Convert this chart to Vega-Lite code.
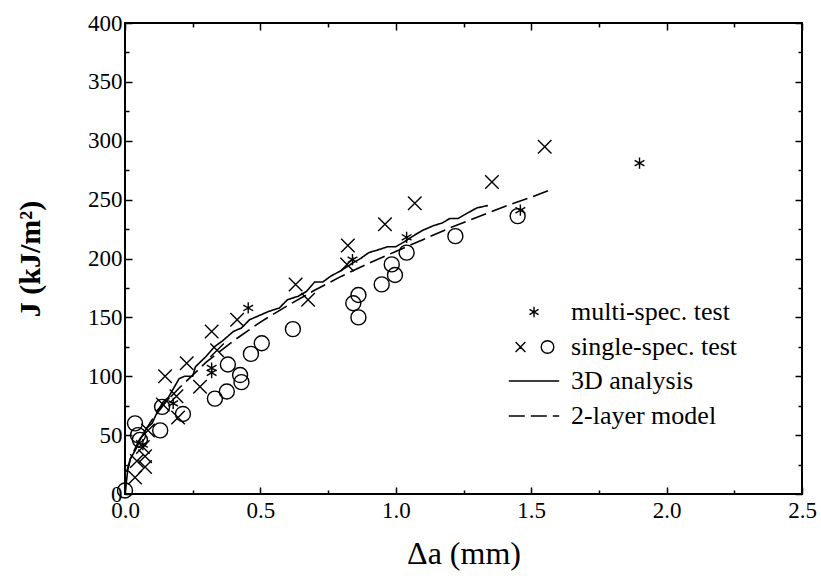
{
  "$schema": "https://vega.github.io/schema/vega-lite/v6.json",
  "width": 677,
  "height": 471,
  "autosize": "none",
  "padding": {"left": 125, "top": 23, "right": 19, "bottom": 85},
  "background": "white",
  "config": {
    "view": {"stroke": "black", "strokeWidth": 2},
    "font": "Liberation Serif, Times New Roman, serif",
    "axis": {"grid": false, "domain": false, "labelFont": "Liberation Serif, Times New Roman, serif", "labelFontSize": 23, "labelColor": "black", "tickColor": "black", "tickWidth": 1.5, "labelOverlap": false, "labelFlush": false, "labelBound": false, "titleFont": "Liberation Serif, Times New Roman, serif", "titleColor": "black"},
    "legend": {"labelFont": "Liberation Serif, Times New Roman, serif", "labelFontSize": 26, "labelLimit": 400, "labelColor": "black", "padding": 0, "rowPadding": 9, "symbolStrokeColor": "black", "symbolFillColor": "transparent", "symbolStrokeWidth": 1.4, "symbolSize": 196}
  },
  "datasets": {
    "lines": [
      {"series": "3D analysis", "x": 0, "y": 0},
      {"series": "3D analysis", "x": 0.01, "y": 20},
      {"series": "3D analysis", "x": 0.02, "y": 30},
      {"series": "3D analysis", "x": 0.04, "y": 38},
      {"series": "3D analysis", "x": 0.06, "y": 48},
      {"series": "3D analysis", "x": 0.08, "y": 56},
      {"series": "3D analysis", "x": 0.1, "y": 60},
      {"series": "3D analysis", "x": 0.12, "y": 70},
      {"series": "3D analysis", "x": 0.14, "y": 78},
      {"series": "3D analysis", "x": 0.16, "y": 82},
      {"series": "3D analysis", "x": 0.18, "y": 90},
      {"series": "3D analysis", "x": 0.2, "y": 98},
      {"series": "3D analysis", "x": 0.22, "y": 100},
      {"series": "3D analysis", "x": 0.25, "y": 100},
      {"series": "3D analysis", "x": 0.26, "y": 108},
      {"series": "3D analysis", "x": 0.3, "y": 117},
      {"series": "3D analysis", "x": 0.33, "y": 125},
      {"series": "3D analysis", "x": 0.36, "y": 130},
      {"series": "3D analysis", "x": 0.4, "y": 138},
      {"series": "3D analysis", "x": 0.43, "y": 141},
      {"series": "3D analysis", "x": 0.46, "y": 148},
      {"series": "3D analysis", "x": 0.5, "y": 152},
      {"series": "3D analysis", "x": 0.53, "y": 155},
      {"series": "3D analysis", "x": 0.57, "y": 158},
      {"series": "3D analysis", "x": 0.6, "y": 165},
      {"series": "3D analysis", "x": 0.64, "y": 168},
      {"series": "3D analysis", "x": 0.67, "y": 172},
      {"series": "3D analysis", "x": 0.7, "y": 180},
      {"series": "3D analysis", "x": 0.73, "y": 180},
      {"series": "3D analysis", "x": 0.76, "y": 185},
      {"series": "3D analysis", "x": 0.8, "y": 190},
      {"series": "3D analysis", "x": 0.84, "y": 196},
      {"series": "3D analysis", "x": 0.87, "y": 200},
      {"series": "3D analysis", "x": 0.9, "y": 205},
      {"series": "3D analysis", "x": 0.93, "y": 207},
      {"series": "3D analysis", "x": 0.97, "y": 210},
      {"series": "3D analysis", "x": 1.0, "y": 210},
      {"series": "3D analysis", "x": 1.03, "y": 214},
      {"series": "3D analysis", "x": 1.07, "y": 220},
      {"series": "3D analysis", "x": 1.1, "y": 224},
      {"series": "3D analysis", "x": 1.14, "y": 228},
      {"series": "3D analysis", "x": 1.17, "y": 230},
      {"series": "3D analysis", "x": 1.2, "y": 234},
      {"series": "3D analysis", "x": 1.23, "y": 234},
      {"series": "3D analysis", "x": 1.26, "y": 238},
      {"series": "3D analysis", "x": 1.3, "y": 243},
      {"series": "3D analysis", "x": 1.34, "y": 245},
      {"series": "2-layer model", "x": 0, "y": 0},
      {"series": "2-layer model", "x": 0.005, "y": 18},
      {"series": "2-layer model", "x": 0.02, "y": 30},
      {"series": "2-layer model", "x": 0.05, "y": 45},
      {"series": "2-layer model", "x": 0.1, "y": 63},
      {"series": "2-layer model", "x": 0.15, "y": 78},
      {"series": "2-layer model", "x": 0.2, "y": 90},
      {"series": "2-layer model", "x": 0.3, "y": 112},
      {"series": "2-layer model", "x": 0.4, "y": 130},
      {"series": "2-layer model", "x": 0.5, "y": 146},
      {"series": "2-layer model", "x": 0.6, "y": 160},
      {"series": "2-layer model", "x": 0.7, "y": 173},
      {"series": "2-layer model", "x": 0.8, "y": 185},
      {"series": "2-layer model", "x": 0.9, "y": 196},
      {"series": "2-layer model", "x": 1.0, "y": 206},
      {"series": "2-layer model", "x": 1.1, "y": 216},
      {"series": "2-layer model", "x": 1.2, "y": 226},
      {"series": "2-layer model", "x": 1.3, "y": 235},
      {"series": "2-layer model", "x": 1.4, "y": 244},
      {"series": "2-layer model", "x": 1.5, "y": 252},
      {"series": "2-layer model", "x": 1.58, "y": 259}
    ],
    "points": [
      {"type": "multi-spec. test", "x": 0.066, "y": 42},
      {"type": "multi-spec. test", "x": 0.178, "y": 77},
      {"type": "multi-spec. test", "x": 0.32, "y": 103},
      {"type": "multi-spec. test", "x": 0.32, "y": 107},
      {"type": "multi-spec. test", "x": 0.455, "y": 158},
      {"type": "multi-spec. test", "x": 0.84, "y": 199},
      {"type": "multi-spec. test", "x": 1.04, "y": 218},
      {"type": "multi-spec. test", "x": 1.46, "y": 241},
      {"type": "multi-spec. test", "x": 1.9, "y": 281},
      {"type": "single-spec. test ×", "x": 0.037, "y": 14},
      {"type": "single-spec. test ×", "x": 0.074, "y": 23},
      {"type": "single-spec. test ×", "x": 0.044, "y": 28},
      {"type": "single-spec. test ×", "x": 0.074, "y": 32},
      {"type": "single-spec. test ×", "x": 0.066, "y": 40},
      {"type": "single-spec. test ×", "x": 0.085, "y": 54},
      {"type": "single-spec. test ×", "x": 0.14, "y": 76},
      {"type": "single-spec. test ×", "x": 0.19, "y": 83},
      {"type": "single-spec. test ×", "x": 0.196, "y": 65},
      {"type": "single-spec. test ×", "x": 0.148, "y": 100},
      {"type": "single-spec. test ×", "x": 0.228, "y": 111},
      {"type": "single-spec. test ×", "x": 0.277, "y": 91},
      {"type": "single-spec. test ×", "x": 0.32, "y": 138},
      {"type": "single-spec. test ×", "x": 0.34, "y": 122},
      {"type": "single-spec. test ×", "x": 0.414, "y": 148},
      {"type": "single-spec. test ×", "x": 0.63, "y": 178},
      {"type": "single-spec. test ×", "x": 0.676, "y": 165},
      {"type": "single-spec. test ×", "x": 0.823, "y": 211},
      {"type": "single-spec. test ×", "x": 0.82, "y": 195},
      {"type": "single-spec. test ×", "x": 0.96, "y": 229},
      {"type": "single-spec. test ×", "x": 1.07, "y": 247},
      {"type": "single-spec. test ×", "x": 1.355, "y": 265},
      {"type": "single-spec. test ×", "x": 1.55, "y": 295},
      {"type": "single-spec. test ○", "x": 0, "y": 3},
      {"type": "single-spec. test ○", "x": 0.037, "y": 60},
      {"type": "single-spec. test ○", "x": 0.048, "y": 50},
      {"type": "single-spec. test ○", "x": 0.055, "y": 46},
      {"type": "single-spec. test ○", "x": 0.13, "y": 54},
      {"type": "single-spec. test ○", "x": 0.137, "y": 74},
      {"type": "single-spec. test ○", "x": 0.214, "y": 68},
      {"type": "single-spec. test ○", "x": 0.332, "y": 81},
      {"type": "single-spec. test ○", "x": 0.376, "y": 87},
      {"type": "single-spec. test ○", "x": 0.38, "y": 110},
      {"type": "single-spec. test ○", "x": 0.425, "y": 101},
      {"type": "single-spec. test ○", "x": 0.43, "y": 95},
      {"type": "single-spec. test ○", "x": 0.465, "y": 119},
      {"type": "single-spec. test ○", "x": 0.505, "y": 128},
      {"type": "single-spec. test ○", "x": 0.62, "y": 140},
      {"type": "single-spec. test ○", "x": 0.843, "y": 162},
      {"type": "single-spec. test ○", "x": 0.862, "y": 169},
      {"type": "single-spec. test ○", "x": 0.862, "y": 150},
      {"type": "single-spec. test ○", "x": 0.948, "y": 178},
      {"type": "single-spec. test ○", "x": 0.997, "y": 186},
      {"type": "single-spec. test ○", "x": 0.985, "y": 195},
      {"type": "single-spec. test ○", "x": 1.04, "y": 205},
      {"type": "single-spec. test ○", "x": 1.22, "y": 219},
      {"type": "single-spec. test ○", "x": 1.45, "y": 236}
    ]
  },
  "resolve": {"axis": {"x": "independent", "y": "independent"}},
  "layer": [
    {
      "data": {"name": "lines"},
      "mark": {"type": "line", "color": "black", "strokeWidth": 1.6, "clip": true},
      "encoding": {
        "x": {"field": "x", "type": "quantitative", "scale": {"domain": [0, 2.5], "nice": false, "zero": false},
          "axis": {"orient": "bottom", "title": "Δa (mm)", "titleFontSize": 32, "titleFontWeight": "normal", "titlePadding": 13,
            "values": [0, 0.25, 0.5, 0.75, 1, 1.25, 1.5, 1.75, 2, 2.25, 2.5], "format": ".1f",
            "labelExpr": "(datum.value * 4) % 2 === 0 ? datum.label : ''", "labelPadding": 12,
            "tickSize": {"condition": {"test": "(datum.value * 4) % 2 === 0", "value": -7}, "value": -4}}},
        "y": {"field": "y", "type": "quantitative", "scale": {"domain": [0, 400], "nice": false},
          "axis": {"orient": "left", "title": "J (kJ/m²)", "titleFontSize": 30, "titleFontWeight": "bold", "titlePadding": 42,
            "values": [0, 25, 50, 75, 100, 125, 150, 175, 200, 225, 250, 275, 300, 325, 350, 375, 400],
            "labelExpr": "datum.value % 50 === 0 ? datum.label : ''", "labelPadding": 10,
            "tickSize": {"condition": {"test": "datum.value % 50 === 0", "value": -7}, "value": -4}}},
        "strokeDash": {"field": "series", "type": "nominal",
          "scale": {"domain": ["3D analysis", "2-layer model"], "range": [[1, 0], [16, 6]]},
          "legend": {"title": null, "orient": "none", "legendX": 396, "legendY": 345, "symbolType": "M-3.6,0H3.6", "symbolStrokeWidth": 1.6, "labelOffset": 24}}
      }
    },
    {
      "data": {"name": "points"},
      "mark": {"type": "point", "filled": false, "color": "black", "strokeWidth": 1.4, "opacity": 1, "size": 225},
      "encoding": {
        "x": {"field": "x", "type": "quantitative",
          "axis": {"orient": "top", "title": null, "labels": false,
            "values": [0, 0.25, 0.5, 0.75, 1, 1.25, 1.5, 1.75, 2, 2.25, 2.5],
            "tickSize": {"condition": {"test": "(datum.value * 4) % 2 === 0", "value": -7}, "value": -4}}},
        "y": {"field": "y", "type": "quantitative",
          "axis": {"orient": "right", "title": null, "labels": false,
            "values": [0, 25, 50, 75, 100, 125, 150, 175, 200, 225, 250, 275, 300, 325, 350, 375, 400],
            "tickSize": {"condition": {"test": "datum.value % 50 === 0", "value": -7}, "value": -4}}},
        "shape": {"field": "type", "type": "nominal",
          "scale": {"domain": ["multi-spec. test", "single-spec. test", "single-spec. test ×", "single-spec. test ○"],
            "range": [
              "M0,-0.75L0,0.75M-0.65,-0.375L0.65,0.375M-0.65,0.375L0.65,-0.375",
              "M-2.63,-0.7L-1.23,0.7M-2.63,0.7L-1.23,-0.7M2.83,0A0.9,0.9 0 1 1 1.03,0A0.9,0.9 0 1 1 2.83,0",
              "M-0.9,-0.9L0.9,0.9M-0.9,0.9L0.9,-0.9",
              "circle"]},
          "legend": {"title": null, "orient": "none", "legendX": 396, "legendY": 276, "labelOffset": 24,
            "values": ["multi-spec. test", "single-spec. test"]}}
      }
    }
  ]
}
